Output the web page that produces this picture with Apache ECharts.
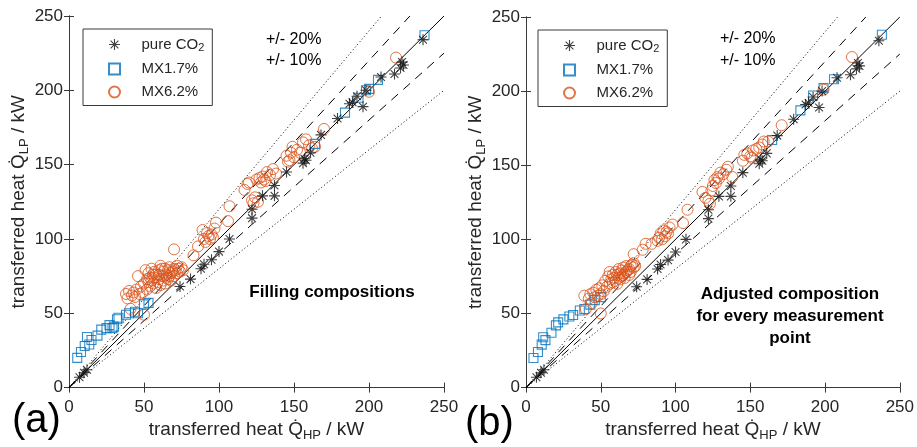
<!DOCTYPE html>
<html>
<head>
<meta charset="utf-8">
<script src="https://cdn.jsdelivr.net/npm/echarts@6/dist/echarts.min.js"></script>
<style>
html, body { margin: 0; padding: 0; background: #fff; }
#main { width: 917px; height: 447px; }
</style>
</head>
<body>
<div id="main"></div>
<script>
// axis range, same for both panels
var axisMin = 0, axisMax = 250, axisStep = 50;

// deviation lines: y = r * x
var ratioSolid = [1];
var ratioDashed = [1.1, 0.9];
var ratioDotted = [1.2, 0.8];

// pure CO2, same in (a) and (b)
var co2 = [[7,7],[10,10],[12,12],[74,68],[81,73],[88,80],[90,83],[95,86],[100,91.5],[107,100],
  [122,114],[122,120],[129,129],[137,129],[137,136],[145,145],[156,151],[157,154],[158,153],
  [161,158],[168,170],[179,181],[187,191],[189,192],[192,196],[196,189],[198,200],[208,209],
  [217,211],[221,215],[222,219],[223,217],[236,234]];

// (a) filling compositions
var mx17a = [[5.5,20],[8,24],[10.5,28],[12,34],[13.5,29],[15,32],[19,35],[21.5,39],[25,40],[27,42],
  [29,40],[30,41],[32,46],[33,47],[38,49],[40,50],[44,51],[46,50],[50,56],[53,57],
  [164,164],[184,185],[193,195],[198,200],[200,201],[206,207],[237,237]];
var mx62a = [[38,63],[39,60],[40,65],[41,53],[42,62],[43,64],[44,61],[45,66],[46,75],[47,63],
  [48,68],[49,64],[50,49],[50,70],[51,79],[52,66],[52,73],[53,77],[54,68],[55,72],[55,80],
  [56,70],[57,74],[57,78],[58,67],[58,76],[59,71],[60,73],[60,79],[61,69],[61,82],[62,75],
  [63,72],[63,78],[64,70],[64,80],[65,74],[65,76],[66,73],[66,79],[67,75],[67,81],[68,72],
  [68,77],[69,78],[70,75],[70,80],[70,93],[71,79],[72,77],[72,82],[73,80],[74,78],[75,81],
  [76,79],[60,76],[62,80],[56,76],[54,74],[53,71],
  [83,89],[86,95],[89,106],[90,100],[91,98],[92,104],[93,102],[94,100],[95,103],[96,101],
  [97,107],[98,111],[106,112],[107,122],
  [117,133],[119,137],[120,138],[122,126],[123,124],[124,128],[125,140],[126,125],[127,141],
  [128,138],[129,142],[130,140],[131,139],[132,145],[134,143],[136,147],[138,144],
  [145,156],[146,152],[147,153],[148,158],[149,162],[150,155],[152,160],[154,158],[156,165],
  [158,167],[160,163],[162,161],[164,162],[170,174],[200,199],[218,222]];

// (b) adjusted composition
var mx17b = [[5,20],[8,24],[10.5,29],[11.5,34],[13,32],[17,37],[20,42],[21.5,44],[25,46],[29,48],
  [31.5,49],[36,52],[39,53],[43,56],[46,59],[50,61],
  [164.6,167],[183.5,187],[192,197],[199,202],[206,208],[238,238]];
var mx62b = [[39,62],[40,53],[42,60],[43,63],[44,57],[45,64],[46,61],[47,66],[48,62],[49,67],
  [50,50],[50,63],[51,69],[52,65],[53,72],[54,68],[55,75],[56,70],[56,78],[57,73],[58,71],
  [58,76],[59,74],[60,72],[60,78],[61,70],[61,76],[62,74],[62,80],[63,73],[63,77],[64,75],
  [64,79],[65,76],[65,81],[66,77],[66,74],[67,78],[67,82],[68,79],[69,80],[69,76],[70,82],
  [70,78],[71,83],[72,81],[72,84],[73,82],[72,90],[78,93],[80,97],[84,97],[88,99],[89,101],
  [90,104],[91,100],[92,106],[93,102],[94,105],[95,104],[96,108],[98,110],[105,111],[108,120],
  [118,132],[120,128],[122,126],[123,124],[124,133],[125,136],[126,140],[127,138],[128,142],
  [129,141],[130,145],[132,144],[134,147],[135,149],[138,142],
  [145,153],[146,157],[148,158],[150,156],[151,155],[152,160],[154,161],[156,162],[158,164],
  [159,166],[162,166],[171,177],[199,201],[218,223]];

var names = ['pure CO2', 'MX1.7%', 'MX6.2%'];

var asterisk = 'path://M9,0L11,0L11,20L9,20Z M0,9L20,9L20,11L0,11Z ' +
  'M2.2,3.6L3.6,2.2L17.8,16.4L16.4,17.8Z M16.4,2.2L17.8,3.6L3.6,17.8L2.2,16.4Z';
var square = 'path://M0,0L10,0L10,10L0,10Z';

var axisColor = '#3a3a3a';
var textColor = '#262626';
var font = 'Liberation Sans, Arial, Helvetica, sans-serif';
var subRich = {
  m: { fontSize: 19, lineHeight: 24, fontFamily: font, color: textColor },
  s: { fontSize: 13, lineHeight: 13, verticalAlign: 'bottom', fontFamily: font, color: textColor }
};

function ratioLine(r) {
  // end point where the line leaves the box
  var xe = Math.min(axisMax, axisMax / r);
  return [[0, 0], [xe, xe * r]];
}

function panelSeries(gi, blue, orange) {
  var ax = gi * 2;
  var list = [];
  ratioSolid.forEach(function(r) {
    list.push({ type: 'line', xAxisIndex: ax, yAxisIndex: ax, data: ratioLine(r), showSymbol: false,
      silent: true, z: 1, lineStyle: { color: '#000', width: 1 } });
  });
  ratioDashed.forEach(function(r) {
    list.push({ type: 'line', xAxisIndex: ax, yAxisIndex: ax, data: ratioLine(r), showSymbol: false,
      silent: true, z: 1, lineStyle: { color: '#000', width: 1, type: [9, 7] } });
  });
  ratioDotted.forEach(function(r) {
    list.push({ type: 'line', xAxisIndex: ax, yAxisIndex: ax, data: ratioLine(r), showSymbol: false,
      silent: true, z: 1, lineStyle: { color: '#000', width: 1, type: [1, 2.5] } });
  });
  list.push({ name: names[0], type: 'scatter', xAxisIndex: ax, yAxisIndex: ax, data: co2,
    symbol: asterisk, symbolSize: 11, z: 3, itemStyle: { color: '#111' } });
  list.push({ name: names[1], type: 'scatter', xAxisIndex: ax, yAxisIndex: ax, data: blue,
    symbol: square, symbolSize: 9, z: 2,
    itemStyle: { color: 'rgba(0,0,0,0)', borderColor: '#0072BD', borderWidth: 1.1 } });
  list.push({ name: names[2], type: 'scatter', xAxisIndex: ax, yAxisIndex: ax, data: orange,
    symbol: 'circle', symbolSize: 11, z: 2,
    itemStyle: { color: 'rgba(0,0,0,0)', borderColor: '#D95319', borderWidth: 1 } });
  return list;
}

function xAxes(gi) {
  var base = { gridIndex: gi, type: 'value', min: axisMin, max: axisMax, interval: axisStep,
    splitLine: { show: false }, axisLine: { lineStyle: { color: axisColor } },
    axisTick: { inside: true, length: 5, lineStyle: { color: axisColor } } };
  var bottom = Object.assign({}, base, {
    position: 'bottom',
    axisLabel: { color: textColor, fontSize: 17, fontFamily: font, margin: 11 },
    name: '{m|transferred heat Q\u0307}{s|HP}{m| / kW}', nameLocation: 'middle', nameGap: 28,
    nameTextStyle: { rich: subRich }
  });
  var top = Object.assign({}, base, { position: 'top', axisLabel: { show: false } });
  return [bottom, top];
}

function yAxes(gi) {
  var base = { gridIndex: gi, type: 'value', min: axisMin, max: axisMax, interval: axisStep,
    splitLine: { show: false }, axisLine: { lineStyle: { color: axisColor } },
    axisTick: { inside: true, length: 5, lineStyle: { color: axisColor } } };
  var left = Object.assign({}, base, {
    position: 'left',
    axisLabel: { color: textColor, fontSize: 17, fontFamily: font, margin: 6 },
    name: '{m|transferred heat Q\u0307}{s|LP}{m| / kW}', nameLocation: 'middle', nameGap: 23,
    nameTextStyle: { rich: subRich }
  });
  var right = Object.assign({}, base, { position: 'right', axisLabel: { show: false } });
  return [left, right];
}

function legendAt(left, top) {
  return {
    data: [
      { name: names[0] },
      { name: names[1], icon: square },
      { name: names[2] }
    ],
    orient: 'vertical', left: left, top: top,
    padding: [8, 8, 6, 25], itemWidth: 44, itemHeight: 11, itemGap: 8,
    borderColor: axisColor, borderWidth: 1, borderRadius: 0, selectedMode: false,
    formatter: function(n) { return n === 'pure CO2' ? '{t|pure CO}{u|2}' : '{t|' + n + '}'; },
    textStyle: {
      color: textColor, fontSize: 15, fontFamily: font,
      rich: {
        t: { fontSize: 15, lineHeight: 18, fontFamily: font, color: textColor },
        u: { fontSize: 11, lineHeight: 11, verticalAlign: 'bottom', fontFamily: font, color: textColor }
      }
    }
  };
}

function label(x, y, text, size, bold, align) {
  return { type: 'text', x: x, y: y, silent: true,
    style: { text: text, fontSize: size, fontWeight: bold ? 'bold' : 'normal', fontFamily: font,
      fill: '#000', align: align || 'left', verticalAlign: 'middle', lineHeight: Math.round(size * 1.27) } };
}

var chart = echarts.init(document.getElementById('main'));
var option = {
  animation: false,
  backgroundColor: '#fff',
  grid: [
    { left: 69, top: 16, width: 375, height: 372 },
    { left: 526, top: 17, width: 375, height: 375 }
  ],
  xAxis: xAxes(0).concat(xAxes(1)),
  yAxis: yAxes(0).concat(yAxes(1)),
  legend: [legendAt(83, 29), legendAt(538, 30)],
  graphic: [
    label(266, 40, '+/- 20%', 16, false),
    label(266, 61, '+/- 10%', 16, false),
    label(720, 39, '+/- 20%', 16, false),
    label(720, 61, '+/- 10%', 16, false),
    label(332, 292, 'Filling compositions', 17, true, 'center'),
    label(790, 316, 'Adjusted composition\nfor every measurement\npoint', 17, true, 'center'),
    label(12, 421, '(a)', 40, false),
    label(465, 424, '(b)', 40, false)
  ],
  series: panelSeries(0, mx17a, mx62a).concat(panelSeries(1, mx17b, mx62b))
};
chart.setOption(option);
</script>
</body>
</html>
